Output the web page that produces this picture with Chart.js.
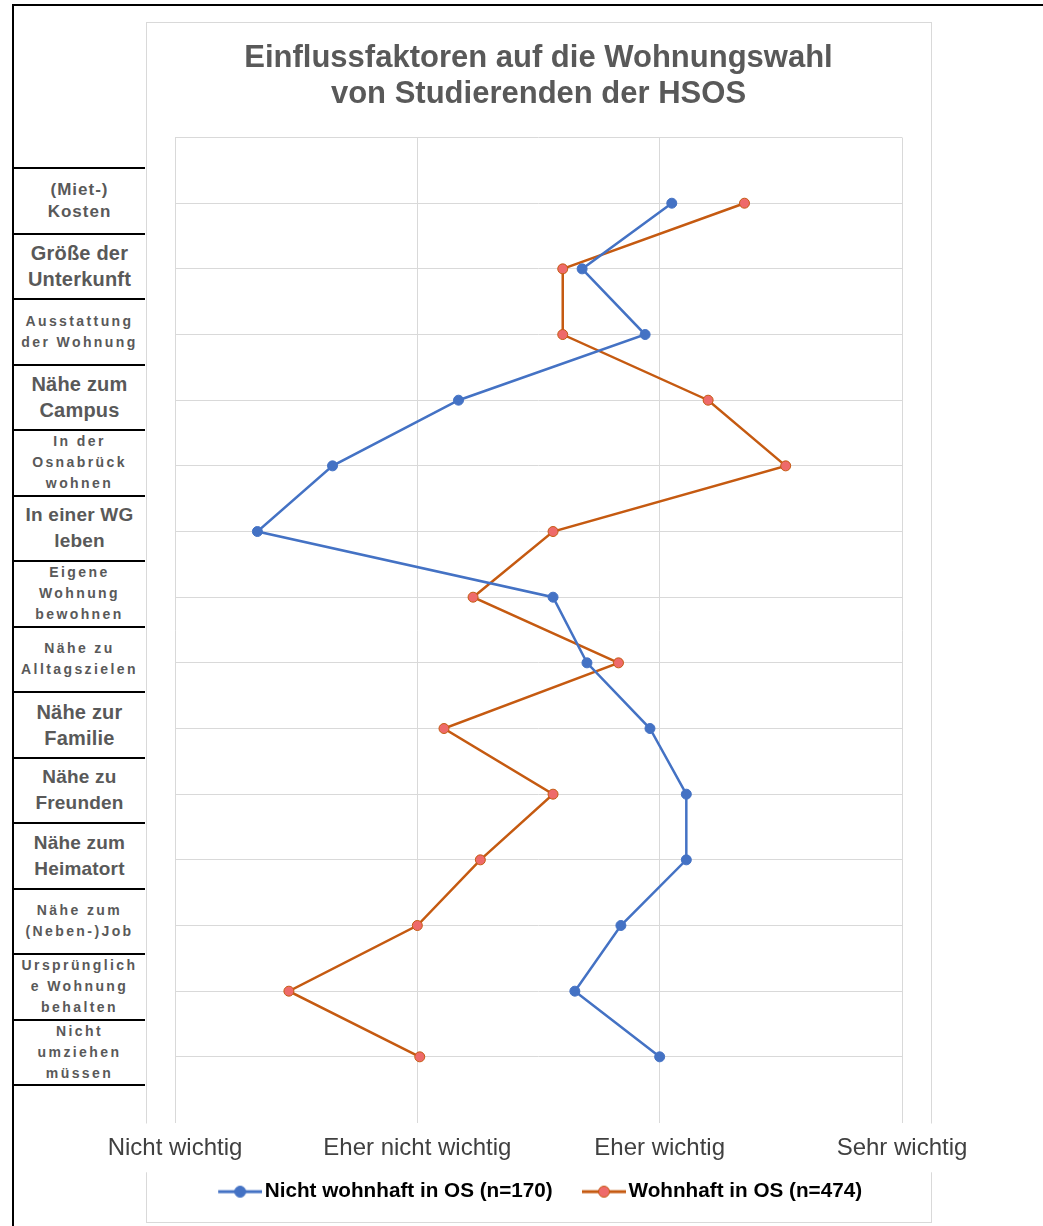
<!DOCTYPE html>
<html lang="de">
<head>
<meta charset="utf-8">
<title>Einflussfaktoren auf die Wohnungswahl</title>
<script src="https://cdn.jsdelivr.net/npm/chart.js@4.4.1/dist/chart.umd.min.js"></script>
<style>
  html, body { margin: 0; padding: 0; background: #fff; }
  body { width: 1043px; height: 1226px; position: relative; overflow: hidden; font-family: "Liberation Sans", Arial, sans-serif; }
  #outer { position: absolute; left: 12px; top: 4px; width: 1040px; height: 1240px; border-top: 2px solid #000; border-left: 2px solid #000; }
  #frame { position: absolute; left: 146px; top: 22px; width: 786px; height: 1201px; border: 1px solid #d9d9d9; box-sizing: border-box; }
  .row { position: absolute; left: 14px; width: 131px; height: 65.5px; box-sizing: border-box; border-top: 2px solid #000;
         display: flex; align-items: center; justify-content: center; text-align: center;
         color: #595959; font-weight: bold; white-space: pre-line; }
  .row.end { height: 2px; }
  .xl { font-size: 20px; line-height: 26px; letter-spacing: 0.2px; }
  .l  { font-size: 19px; line-height: 26px; letter-spacing: 0.2px; }
  .m  { font-size: 17px; line-height: 22px; letter-spacing: 1px; }
  .s  { font-size: 14px; line-height: 21px; letter-spacing: 2.4px; }
  #chart { position: absolute; left: 0; top: 0; }
</style>
</head>
<body>
<div id="outer"></div>
<div id="frame"></div>
<div id="rows"></div>
<canvas id="chart" width="1043" height="1226"></canvas>
<script>
// factors (rows, top to bottom)
var categories = [
  "(Miet-)\nKosten",
  "Größe der\nUnterkunft",
  "Ausstattung\nder Wohnung",
  "Nähe zum\nCampus",
  "In der\nOsnabrück\nwohnen",
  "In einer WG\nleben",
  "Eigene\nWohnung\nbewohnen",
  "Nähe zu\nAlltagszielen",
  "Nähe zur\nFamilie",
  "Nähe zu\nFreunden",
  "Nähe zum\nHeimatort",
  "Nähe zum\n(Neben-)Job",
  "Ursprünglich\ne Wohnung\nbehalten",
  "Nicht\numziehen\nmüssen"
];

var ratingLabels = ["Nicht wichtig", "Eher nicht wichtig", "Eher wichtig", "Sehr wichtig"];

var seriesNames = ["Nicht wohnhaft in OS (n=170)", "Wohnhaft in OS (n=474)"];

// mean rating, 1 = nicht wichtig ... 4 = sehr wichtig
var nichtWohnhaft = [3.05, 2.68, 2.94, 2.17, 1.65, 1.34, 2.56, 2.70, 2.96, 3.11, 3.11, 2.84, 2.65, 3.00];
var wohnhaft      = [3.35, 2.60, 2.60, 3.20, 3.52, 2.56, 2.23, 2.83, 2.11, 2.56, 2.26, 2.00, 1.47, 2.01];

// font class of each row label
var rowFont = ["m", "xl", "s", "xl", "s", "l", "s", "s", "xl", "l", "l", "s", "s", "s"];

// label column
var rows = document.getElementById("rows");
var rowTop = 167, rowH = 65.5;
for (var i = 0; i < categories.length; i++) {
  var d = document.createElement("div");
  d.className = "row " + rowFont[i];
  d.style.top = (rowTop + i * rowH) + "px";
  d.textContent = categories[i];
  rows.appendChild(d);
}
var endLine = document.createElement("div");
endLine.className = "row end";
endLine.style.top = (rowTop + categories.length * rowH) + "px";
rows.appendChild(endLine);

function toPoints(values) {
  return values.map(function (v, i) { return { x: v, y: i + 1 }; });
}

// legend marker: line with a dot, drawn at the right end of the image
// so it sits just before the label text
var iconBox = 57.5, iconW = 73;
function legendIcon(line, fill, stroke) {
  var c = document.createElement("canvas");
  c.width = iconW; c.height = 14;
  var g = c.getContext("2d");
  var x0 = iconW - 44;
  g.strokeStyle = line; g.lineWidth = 3;
  g.beginPath(); g.moveTo(x0, 7); g.lineTo(iconW, 7); g.stroke();
  g.fillStyle = fill; g.strokeStyle = stroke; g.lineWidth = 1;
  g.beginPath(); g.arc(x0 + 22, 7, 5.5, 0, Math.PI * 2); g.fill(); g.stroke();
  return c;
}

var family = "'Liberation Sans', Arial, sans-serif";
var gridColor = "#d9d9d9";

var blue = "#4472C4", orange = "#C55A11", orangeDot = "#EE6A6A";
var icons = [legendIcon(blue, blue, blue), legendIcon(orange, orangeDot, orange)];

var myChart = new Chart(document.getElementById("chart"), {
  type: "scatter",
  data: {
    datasets: [
      {
        label: seriesNames[0],
        data: toPoints(nichtWohnhaft),
        showLine: true,
        borderColor: blue,
        backgroundColor: blue,
        borderWidth: 2.5,
        pointRadius: 5,
        pointBackgroundColor: blue,
        pointBorderColor: blue,
        pointBorderWidth: 1
      },
      {
        label: seriesNames[1],
        data: toPoints(wohnhaft),
        showLine: true,
        borderColor: orange,
        backgroundColor: orangeDot,
        borderWidth: 2.5,
        pointRadius: 5,
        pointBackgroundColor: orangeDot,
        pointBorderColor: orange,
        pointBorderWidth: 1
      }
    ]
  },
  options: {
    responsive: false,
    animation: false,
    layout: { autoPadding: false, padding: { left: 157, right: 141, top: 0, bottom: 14 } },
    scales: {
      x: {
        type: "linear", min: 1, max: 4, position: "bottom",
        border: { display: false },
        grid: { color: gridColor, drawTicks: false },
        ticks: {
          stepSize: 1, autoSkip: false, maxRotation: 0, padding: 11,
          color: "#404040", font: { size: 24, family: family },
          callback: function (v) { return ratingLabels[v - 1] || ""; },
          showLabelBackdrop: true, backdropColor: "#ffffff", backdropPadding: { x: 4, y: 10 }
        }
      },
      y: {
        type: "linear", reverse: true, min: 0, max: 15,
        border: { display: false },
        grid: {
          drawTicks: false,
          color: function (c) { return c.tick && c.tick.value === 15 ? "rgba(0,0,0,0)" : gridColor; }
        },
        ticks: { stepSize: 1, display: false },
        // empty strip left of the plot, keeps the legend centred like the original
        afterFit: function (scale) { scale.width = 18; }
      }
    },
    plugins: {
      title: {
        display: true,
        fullSize: false,
        text: ["Einflussfaktoren auf die Wohnungswahl", "von Studierenden der HSOS"],
        color: "#595959",
        font: { size: 31, weight: "bold", family: family, lineHeight: 1.17 },
        padding: { top: 40, bottom: 25 }
      },
      legend: {
        position: "bottom",
        labels: {
          usePointStyle: true, pointStyleWidth: iconBox, padding: 8,
          color: "#000", font: { size: 20.7, weight: "bold", family: family },
          generateLabels: function (chart) {
            return chart.data.datasets.map(function (ds, i) {
              return { text: ds.label, datasetIndex: i, pointStyle: icons[i], fontColor: "#000",
                       fillStyle: ds.borderColor, strokeStyle: ds.borderColor, lineWidth: 0, hidden: false };
            });
          }
        }
      },
      tooltip: { enabled: false }
    }
  }
});
</script>
</body>
</html>
